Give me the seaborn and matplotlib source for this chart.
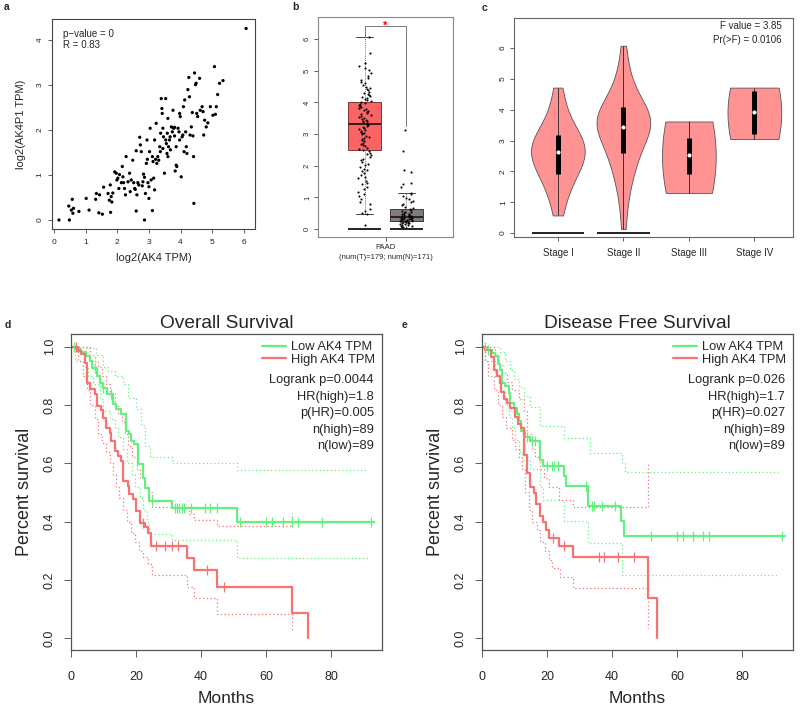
import numpy as np
import pandas as pd
import matplotlib
matplotlib.use("Agg")
import matplotlib.pyplot as plt
from matplotlib.lines import Line2D
import seaborn as sns

# ---------------- data ----------------
# (a) correlation scatter
ak4 = [0.16, 0.49, 0.47, 0.58, 0.55, 0.6, 0.62, 0.79, 1.02, 1.11, 1.32, 1.34, 1.44, 1.42, 1.53, 1.57,
       1.71, 1.75, 1.78, 1.81, 1.83, 1.79, 1.86, 1.92, 1.97, 1.99, 2.02, 2.05, 2.07, 2.13, 2.18, 2.2,
       2.16, 2.23, 2.26, 2.28, 2.34, 2.39, 2.41, 2.44, 2.49, 2.52, 2.55, 2.57, 2.6, 2.62, 2.6, 2.65,
       2.68, 2.71, 2.73, 2.76, 2.79, 2.81, 2.83, 2.86, 2.86, 2.89, 2.92, 2.94, 2.95, 2.97, 3.0, 3.0,
       3.02, 3.04, 3.07, 3.11, 3.11, 3.13, 3.15, 3.18, 3.18, 3.21, 3.23, 3.25, 3.28, 3.31, 3.34, 3.36,
       3.37, 3.39, 3.41, 3.42, 3.44, 3.44, 3.46, 3.49, 3.53, 3.53, 3.55, 3.57, 3.58, 3.6, 3.6, 3.62,
       3.65, 3.67, 3.68, 3.71, 3.74, 3.76, 3.78, 3.81, 3.81, 3.83, 3.86, 3.86, 3.88, 3.92, 3.95, 3.97,
       3.97, 3.99, 4.02, 4.05, 4.07, 4.09, 4.11, 4.13, 4.16, 4.18, 4.2, 4.23, 4.26, 4.28, 4.3, 4.34,
       4.37, 4.39, 4.41, 4.42, 4.44, 4.47, 4.49, 4.51, 4.54, 4.6, 4.62, 4.68, 4.71, 4.73, 4.76, 4.81,
       4.86, 4.94, 5.02, 5.07, 5.13, 5.17, 5.23, 5.1, 5.34, 6.07]
ak4p1 = [0.0, 0.0, 0.31, 0.46, 0.22, 0.15, 0.26, 0.19, 0.48, 0.22, 0.46, 0.59, 0.56, 0.16, 0.13, 0.73,
         0.59, 0.44, 0.78, 0.52, 0.4, 0.17, 0.6, 1.07, 1.04, 0.89, 0.93, 0.7, 1.01, 0.83, 0.96, 0.83,
         1.19, 0.7, 0.56, 1.41, 0.85, 1.04, 0.63, 0.89, 1.33, 0.83, 0.7, 0.68, 1.54, 0.56, 0.2, 0.83,
         0.78, 1.84, 1.67, 1.52, 0.76, 0.85, 1.02, 0.0, 0.95, 0.59, 1.26, 1.78, 1.35, 0.83, 0.74, 0.48,
         1.52, 2.04, 0.89, 0.21, 1.41, 1.3, 0.93, 1.78, 0.67, 1.35, 2.15, 1.26, 1.41, 1.33, 1.63, 1.52,
         1.93, 2.7, 2.48, 2.37, 2.04, 1.59, 1.85, 1.04, 2.7, 1.78, 1.7, 1.48, 1.93, 2.26, 1.41, 1.63,
         1.78, 1.85, 1.56, 2.07, 1.96, 2.44, 2.04, 2.06, 1.87, 1.09, 1.63, 1.22, 1.19, 2.04, 1.96, 2.37,
         1.78, 2.3, 0.96, 1.85, 1.89, 2.52, 1.52, 2.67, 1.96, 1.63, 1.48, 2.9, 3.17, 2.74, 1.89, 2.07,
         2.39, 1.87, 1.41, 0.37, 3.27, 3.01, 3.04, 2.37, 2.3, 3.15, 2.44, 2.52, 2.41, 1.89, 2.22, 2.07,
         2.16, 2.52, 2.33, 3.41, 2.52, 2.79, 3.04, 2.35, 3.1, 4.26]

# (b) tumour vs normal expression
groups = ["Tumor", "Normal"]
tumor_expr = [0.13, 0.47, 0.5, 0.56, 0.62, 0.78, 0.86, 0.95, 1.03, 1.1, 1.18, 1.27, 1.33, 1.41, 1.47,
              1.52, 1.6, 1.66, 1.71, 1.77, 1.82, 1.86, 1.91, 1.97, 2.03, 2.07, 2.12, 2.18, 2.22, 2.27,
              2.33, 2.38, 2.41, 2.46, 2.49, 2.53, 2.57, 2.61, 2.66, 2.69, 2.73, 2.77, 2.81, 2.84, 2.88,
              2.91, 2.95, 2.99, 3.02, 3.05, 3.08, 3.11, 3.14, 3.17, 3.2, 3.23, 3.26, 3.29, 3.31, 3.34,
              3.37, 3.4, 3.43, 3.46, 3.49, 3.52, 3.55, 3.57, 3.6, 3.63, 3.66, 3.69, 3.72, 3.75, 3.78,
              3.81, 3.84, 3.87, 3.9, 3.93, 3.96, 3.99, 4.02, 4.05, 4.08, 4.11, 4.14, 4.17, 4.21, 4.24,
              4.27, 4.31, 4.34, 4.38, 4.42, 4.46, 4.5, 4.55, 4.6, 4.66, 4.71, 4.78, 4.85, 4.93, 5.02,
              5.1, 5.16, 5.25, 5.55, 6.08]
normal_expr = [0.03, 0.05, 0.07, 0.08, 0.1, 0.11, 0.13, 0.14, 0.15, 0.17, 0.18, 0.19, 0.2, 0.21, 0.22,
               0.23, 0.24, 0.25, 0.26, 0.27, 0.28, 0.29, 0.3, 0.31, 0.31, 0.32, 0.33, 0.34, 0.35, 0.36,
               0.37, 0.38, 0.39, 0.4, 0.41, 0.42, 0.43, 0.45, 0.47, 0.49, 0.51, 0.53, 0.55, 0.58, 0.61,
               0.64, 0.67, 0.71, 0.75, 0.79, 0.84, 0.89, 0.94, 0.99, 1.04, 1.1, 1.14, 1.32, 1.41, 1.46,
               1.79, 1.88, 2.46, 3.12]
box_q1 = [2.5, 0.25]
box_med = [3.32, 0.38]
box_q3 = [4.0, 0.62]
box_lo = [0.47, 0.0]
box_hi = [6.08, 1.15]
bracket_y = [6.08, 6.41, 6.41, 3.25]

# (c) stage violins
stages = ["Stage I", "Stage II", "Stage III", "Stage IV"]
stage1 = [0.57, 1.15, 1.5, 1.78, 1.92, 2.08, 2.27, 2.42, 2.53, 2.6, 2.66, 2.74, 2.86, 2.98, 3.1, 3.17,
          3.35, 3.7, 4.1, 4.72]
stage2 = [0.13, 0.85, 1.3, 1.62, 1.85, 2.02, 2.2, 2.35, 2.48, 2.6, 2.72, 2.85, 2.95, 3.05, 3.15, 3.22,
          3.3, 3.38, 3.45, 3.5, 3.56, 3.6, 3.64, 3.68, 3.72, 3.77, 3.82, 3.88, 3.95, 4.02, 4.1, 4.2,
          4.32, 4.48, 4.65, 4.85, 5.1, 5.45, 6.08]
stage3 = [1.3, 1.93, 2.53, 3.08, 3.62]
stage4 = [3.05, 3.22, 3.92, 4.6, 4.72]
stage_bw = [1.1, 1.0, 3.0, 3.0]
stage_q1 = [1.92, 2.6, 1.93, 3.22]
stage_med = [2.63, 3.45, 2.53, 3.92]
stage_q3 = [3.17, 4.1, 3.08, 4.6]
stage_min = [0.57, 0.13, 1.3, 3.05]
stage_max = [4.72, 6.08, 3.62, 4.72]
stage_has_zero = [True, True, False, False]

# (d) overall survival
os_low_t = [0, 1.3, 3.2, 4.7, 5.7, 6.5, 8.1, 9.0, 9.8, 11.2, 12.9, 13.9, 15.5, 17.0, 17.7, 18.5,
            19.3, 20.6, 22.1, 22.9, 23.9, 31.0, 51.2, 93.2]
os_low_s = [1.0, 0.99, 0.98, 0.968, 0.95, 0.928, 0.9, 0.876, 0.859, 0.836, 0.802, 0.785, 0.77, 0.71,
            0.699, 0.676, 0.665, 0.596, 0.55, 0.516, 0.472, 0.448, 0.399, 0.399]
os_high_t = [0, 2.1, 3.2, 4.4, 5.0, 6.0, 7.3, 8.1, 9.3, 9.8, 10.9, 11.9, 12.4, 13.4, 14.5, 15.5, 16.0,
             17.5, 18.0, 19.1, 20.1, 21.1, 22.9, 23.7, 24.7, 35.8, 37.9, 45.0, 68.1, 73.0]
os_high_s = [1.0, 0.985, 0.973, 0.945, 0.876, 0.853, 0.836, 0.796, 0.782, 0.756, 0.722, 0.705, 0.676,
             0.642, 0.625, 0.608, 0.54, 0.522, 0.494, 0.476, 0.436, 0.396, 0.383, 0.362, 0.315, 0.274,
             0.234, 0.177, 0.088, 0.0]
os_low_up_t = [0, 4.5, 7.8, 9.8, 11.4, 13.5, 16.0, 17.5, 20.1, 21.4, 22.9, 24.2, 31.0, 51.0, 91.5]
os_low_up_s = [1.0, 0.995, 0.97, 0.93, 0.915, 0.9, 0.87, 0.825, 0.785, 0.73, 0.66, 0.623, 0.6, 0.577, 0.577]
os_low_lo_t = [0, 1.2, 3.8, 5.3, 6.9, 8.9, 9.9, 12.0, 13.5, 14.6, 16.1, 17.1, 18.7, 19.7, 21.2, 22.3,
               23.3, 24.1, 31.0, 51.0, 92.0]
os_low_lo_s = [1.0, 0.95, 0.93, 0.9, 0.87, 0.82, 0.78, 0.75, 0.72, 0.69, 0.65, 0.6, 0.56, 0.52, 0.48,
               0.44, 0.4, 0.357, 0.337, 0.276, 0.276]
os_high_up_t = [0, 5.9, 7.4, 8.4, 9.4, 10.8, 12.0, 13.5, 14.6, 15.6, 16.6, 17.6, 18.7, 20.2, 21.2,
                22.8, 23.8, 24.8, 36.3, 37.9, 45.0, 68.1]
os_high_up_s = [1.0, 0.97, 0.95, 0.93, 0.9, 0.87, 0.84, 0.8, 0.77, 0.74, 0.7, 0.66, 0.62, 0.58, 0.55,
                0.52, 0.5, 0.451, 0.426, 0.405, 0.386, 0.43]
os_high_lo_t = [0, 2.3, 3.8, 5.0, 6.0, 7.4, 8.4, 9.4, 10.8, 12.0, 13.0, 14.0, 14.9, 16.1, 17.1, 18.4,
                19.7, 21.0, 22.3, 23.8, 24.8, 35.7, 37.7, 45.0, 68.1]
os_high_lo_s = [1.0, 0.95, 0.9, 0.85, 0.8, 0.75, 0.7, 0.67, 0.64, 0.6, 0.56, 0.52, 0.48, 0.44, 0.4,
                0.36, 0.33, 0.3, 0.28, 0.255, 0.217, 0.177, 0.137, 0.083, 0.02]
os_low_cens = [1.0, 7.5, 10.0, 12.4, 25.0, 32.0, 32.7, 33.3, 34.1, 34.8, 36.9, 41.2, 42.8, 44.8, 52.0,
               60.0, 61.9, 65.1, 68.0, 70.0, 77.1, 92.2]
os_high_cens = [1.5, 22.3, 26.3, 28.8, 31.0, 32.8, 42.0, 47.1]
os_stats = ["Logrank p=0.0044", "HR(high)=1.8", "p(HR)=0.005", "n(high)=89", "n(low)=89"]

# (e) disease free survival
dfs_low_t = [0, 1.7, 3.1, 4.1, 4.9, 5.4, 6.2, 7.2, 8.2, 8.7, 9.7, 10.8, 11.3, 12.0, 13.3, 14.9, 17.9,
             18.8, 25.1, 25.8, 32.7, 42.8, 43.8, 93.2]
dfs_low_s = [1.0, 0.989, 0.977, 0.966, 0.94, 0.92, 0.875, 0.864, 0.84, 0.805, 0.79, 0.77, 0.745, 0.71,
             0.69, 0.675, 0.61, 0.59, 0.555, 0.523, 0.454, 0.403, 0.352, 0.352]
dfs_high_t = [0, 1.0, 2.8, 3.8, 4.6, 5.4, 5.9, 6.9, 7.7, 8.7, 10.3, 11.0, 12.0, 12.8, 13.8, 14.9, 15.9,
              16.7, 17.9, 18.8, 19.8, 20.7, 23.6, 27.9, 51.0, 54.0]
dfs_high_s = [1.0, 0.989, 0.965, 0.92, 0.9, 0.875, 0.845, 0.82, 0.805, 0.79, 0.76, 0.735, 0.72, 0.63,
              0.565, 0.52, 0.497, 0.46, 0.42, 0.397, 0.37, 0.345, 0.316, 0.278, 0.139, 0.0]
dfs_low_up_t = [0, 5.5, 7.0, 8.5, 10.0, 11.5, 13.0, 14.9, 17.9, 25.1, 33.1, 43.1, 44.1, 91.2]
dfs_low_up_s = [1.0, 0.98, 0.95, 0.92, 0.89, 0.86, 0.83, 0.794, 0.726, 0.686, 0.634, 0.6, 0.569, 0.569]
dfs_low_lo_t = [0, 1.0, 4.1, 5.6, 7.2, 8.2, 9.2, 10.3, 11.3, 12.3, 14.9, 17.9, 18.8, 25.1, 32.7, 43.0, 91.2]
dfs_low_lo_s = [1.0, 0.95, 0.9, 0.85, 0.8, 0.76, 0.72, 0.68, 0.64, 0.61, 0.58, 0.52, 0.475, 0.403,
                0.327, 0.217, 0.217]
dfs_high_up_t = [0, 4.1, 5.1, 6.1, 7.7, 9.2, 11.3, 12.8, 13.8, 15.4, 16.4, 17.7, 19.0, 20.5, 23.6, 27.9, 51.0]
dfs_high_up_s = [1.0, 0.97, 0.94, 0.91, 0.88, 0.85, 0.82, 0.78, 0.7, 0.65, 0.62, 0.58, 0.55, 0.52,
                 0.473, 0.451, 0.602]
dfs_high_lo_t = [0, 1.0, 2.0, 3.6, 4.8, 6.2, 7.5, 9.2, 10.3, 11.3, 12.3, 13.3, 14.4, 15.4, 16.9, 17.9,
                 19.5, 20.5, 21.5, 24.1, 27.9, 51.0]
dfs_high_lo_s = [1.0, 0.95, 0.9, 0.85, 0.8, 0.76, 0.72, 0.68, 0.65, 0.62, 0.58, 0.5, 0.44, 0.4, 0.37,
                 0.33, 0.3, 0.27, 0.24, 0.211, 0.172, 0.034]
dfs_low_cens = [1.0, 2.0, 13.8, 15.4, 16.4, 20.0, 21.5, 22.3, 23.3, 32.0, 33.7, 34.5, 36.9, 40.8, 51.9,
                59.9, 61.9, 64.8, 67.9, 69.9, 92.2]
dfs_high_cens = [22.0, 25.3, 36.1, 37.6, 41.9, 46.9]
dfs_stats = ["Logrank p=0.026", "HR(high)=1.7", "p(HR)=0.027", "n(high)=89", "n(low)=89"]

# ---------------- style ----------------
sns.set_theme(style="white")
plt.rcParams["font.family"] = ["Liberation Sans", "DejaVu Sans"]
plt.rcParams["axes.unicode_minus"] = True

W, H = 800, 707
fig = plt.figure(figsize=(8.0, 7.07), dpi=100)


def ax_px(l, t, r, b):
    return fig.add_axes([l / W, 1 - b / H, (r - l) / W, (b - t) / H])


def style_axes(ax, color="#444444", lw=0.8):
    for s in ax.spines.values():
        s.set_visible(True)
        s.set_color(color)
        s.set_linewidth(lw)
    ax.tick_params(direction="out", length=3, width=0.6, color="#444444", pad=2,
                   left=True, bottom=True)


# ---------------- (a) ----------------
ax = ax_px(52, 19, 255, 229)
sns.scatterplot(x=ak4, y=ak4p1, s=5.5, color="black", edgecolor="none", ax=ax)
ax.set_xlim(-0.06, 6.35)
ax.set_ylim(-0.2, 4.47)
ax.set_xticks(range(0, 7))
ax.set_yticks(range(0, 5))
style_axes(ax)
ax.tick_params(labelsize=6, pad=3)
ax.tick_params(axis="x", pad=4)
for t in ax.get_yticklabels():
    t.set_rotation(90)
    t.set_va("center")
ax.set_xlabel("log2(AK4 TPM)", fontsize=8, labelpad=5)
ax.set_ylabel("log2(AK4P1 TPM)", fontsize=8, labelpad=8)
ax.text(0.055, 0.93, "p\u2212value = 0", transform=ax.transAxes, fontsize=7, va="center")
ax.text(0.055, 0.875, "R = 0.83", transform=ax.transAxes, fontsize=7, va="center")

# ---------------- (b) ----------------
ax = ax_px(318, 17, 453, 237)
stats = [dict(med=box_med[i], q1=box_q1[i], q3=box_q3[i], whislo=box_lo[i], whishi=box_hi[i],
              fliers=[]) for i in range(2)]
bp = ax.bxp(stats, positions=[0, 1], widths=0.8, patch_artist=True, showfliers=False,
            capwidths=0.4,
            whiskerprops=dict(color="#444444", lw=0.6, linestyle=(0, (1, 1.5))),
            capprops=dict(color="#444444", lw=0.7),
            medianprops=dict(color="#3a1a1a", lw=1.4),
            boxprops=dict(lw=0.7))
for patch, fc, ec in zip(bp["boxes"], ["#FA6464", "#7E7E7E"], ["#7a3a3a", "#3c3c3c"]):
    patch.set_facecolor(fc)
    patch.set_edgecolor(ec)
df_b = pd.DataFrame({"group": ["Tumor"] * len(tumor_expr) + ["Normal"] * len(normal_expr),
                     "value": tumor_expr + normal_expr})
np.random.seed(3)
sns.stripplot(data=df_b, x="group", y="value", order=groups, jitter=0.16, size=1.5,
              color="black", linewidth=0, ax=ax, zorder=5)
for i in range(2):
    ax.hlines(0, i - 0.4, i + 0.4, color="#222222", lw=1.4, zorder=6)
ax.plot([0, 0, 1, 1], bracket_y, color="#777777", lw=0.7)
ax.text(0.5, bracket_y[1], "*", color="red", fontsize=8, ha="center", va="center",
        fontweight="bold")
ax.set_xlim(-1.12, 2.12)
ax.set_ylim(-0.25, 6.7)
ax.set_yticks(range(0, 7))
ax.set_xticks([0.5])
ax.set_xticklabels(["PAAD\n(num(T)=179; num(N)=171)"], fontsize=5.5, linespacing=1.6)
ax.set_xlabel("")
ax.set_ylabel("")
style_axes(ax, color="#888888")
ax.tick_params(labelsize=5.5)
for t in ax.get_yticklabels():
    t.set_rotation(90)
    t.set_va("center")

# ---------------- (c) ----------------
ax = ax_px(514, 18, 793, 237)
stage_data = [stage1, stage2, stage3, stage4]
for i, vals in enumerate(stage_data):
    df_c = pd.DataFrame({"stage": [stages[i]] * len(vals), "value": vals})
    sns.violinplot(data=df_c, x="stage", y="value", order=stages, inner=None, cut=0,
                   density_norm="width", width=0.82, bw_adjust=stage_bw[i], color="#FF9393",
                   saturation=1, linewidth=0.6, linecolor="#555555", ax=ax)
pos = np.arange(len(stages))
ax.vlines(pos, stage_min, stage_max, color="#222222", lw=0.6, zorder=4)
ax.vlines(pos, stage_q1, stage_q3, color="black", lw=3.6, zorder=5)
ax.scatter(pos, stage_med, s=9, color="white", zorder=6, linewidths=0)
for i, z in enumerate(stage_has_zero):
    if z:
        ax.hlines(0, i - 0.4, i + 0.4, color="#222222", lw=1.4, zorder=6)
ax.set_xlim(-0.67, 3.59)
ax.set_ylim(-0.13, 6.98)
ax.set_yticks(range(0, 7))
ax.set_xticks(pos)
ax.set_xticklabels(stages)
ax.set_xlabel("")
ax.set_ylabel("")
style_axes(ax, color="#666666")
ax.tick_params(axis="x", labelsize=7, pad=5)
ax.tick_params(axis="y", labelsize=6)
for t in ax.get_yticklabels():
    t.set_rotation(90)
    t.set_va("center")
ax.text(0.96, 0.963, "F value = 3.85", transform=ax.transAxes, ha="right", va="center", fontsize=7)
ax.text(0.96, 0.9, "Pr(>F) = 0.0106", transform=ax.transAxes, ha="right", va="center", fontsize=7)

# ---------------- (d), (e) ----------------
GREEN = "#62F07F"
RED = "#F87272"


def step_at(tt, ss, x):
    tt = np.asarray(tt)
    ss = np.asarray(ss)
    idx = np.searchsorted(tt, x, side="right") - 1
    return ss[np.clip(idx, 0, len(ss) - 1)]


def km_panel(ax, title, low, high, low_up, low_lo, high_up, high_lo, low_c, high_c, stat_lines):
    for (t, s), c in [(low_up, GREEN), (low_lo, GREEN), (high_up, RED), (high_lo, RED)]:
        sns.lineplot(x=t, y=s, drawstyle="steps-post", estimator=None, sort=False, color=c,
                     lw=0.9, linestyle=(0, (1, 2)), ax=ax)
    sns.lineplot(x=low[0], y=low[1], drawstyle="steps-post", estimator=None, sort=False,
                 color=GREEN, lw=1.6, ax=ax)
    sns.lineplot(x=high[0], y=high[1], drawstyle="steps-post", estimator=None, sort=False,
                 color=RED, lw=1.6, ax=ax)
    ax.plot(low_c, step_at(low[0], low[1], low_c), linestyle="none", marker="|", ms=6.5,
            mew=0.9, color=GREEN)
    ax.plot(high_c, step_at(high[0], high[1], high_c), linestyle="none", marker="|", ms=6.5,
            mew=0.9, color=RED)
    ax.set_xlim(0, 95.7)
    ax.set_ylim(-0.04, 1.043)
    ax.set_xticks([0, 20, 40, 60, 80])
    ax.set_yticks([0, 0.2, 0.4, 0.6, 0.8, 1.0])
    ax.set_yticklabels(["0.0", "0.2", "0.4", "0.6", "0.8", "1.0"])
    style_axes(ax, color="#555555", lw=0.9)
    ax.tick_params(labelsize=9, length=5, pad=6)
    ax.tick_params(axis="x", pad=10)
    for t in ax.get_yticklabels():
        t.set_rotation(90)
        t.set_va("center")
    ax.set_title(title, fontsize=13.8, pad=4)
    ax.set_xlabel("Months", fontsize=12.5, labelpad=6)
    ax.set_ylabel("Percent survival", fontsize=13, labelpad=8)
    handles = [Line2D([], [], color=GREEN, lw=1.6), Line2D([], [], color=RED, lw=1.6)]
    ax.legend(handles, ["Low AK4 TPM", "High AK4 TPM"], loc="upper left",
              bbox_to_anchor=(0.614, 0.977), frameon=False, fontsize=9.3, borderpad=0,
              borderaxespad=0, handlelength=1.85, handletextpad=0.4, labelspacing=0.05)
    for k, line in enumerate(stat_lines):
        ax.text(0.974, 0.854 - k * 0.0525, line, transform=ax.transAxes, ha="right",
                va="center", fontsize=9.3)


ax = ax_px(71, 334, 382, 650)
km_panel(ax, "Overall Survival", (os_low_t, os_low_s), (os_high_t, os_high_s),
         (os_low_up_t, os_low_up_s), (os_low_lo_t, os_low_lo_s),
         (os_high_up_t, os_high_up_s), (os_high_lo_t, os_high_lo_s),
         os_low_cens, os_high_cens, os_stats)

ax = ax_px(482, 334, 793, 650)
km_panel(ax, "Disease Free Survival", (dfs_low_t, dfs_low_s), (dfs_high_t, dfs_high_s),
         (dfs_low_up_t, dfs_low_up_s), (dfs_low_lo_t, dfs_low_lo_s),
         (dfs_high_up_t, dfs_high_up_s), (dfs_high_lo_t, dfs_high_lo_s),
         dfs_low_cens, dfs_high_cens, dfs_stats)

# panel letters
for lab, x, y in [("a", 7, 7), ("b", 295, 7), ("c", 485, 8), ("d", 8, 325), ("e", 405, 325)]:
    fig.text(x / W, 1 - y / H, lab, fontsize=7.5, fontweight="bold", ha="center", va="center")

fig.savefig("out.png", dpi=100)
